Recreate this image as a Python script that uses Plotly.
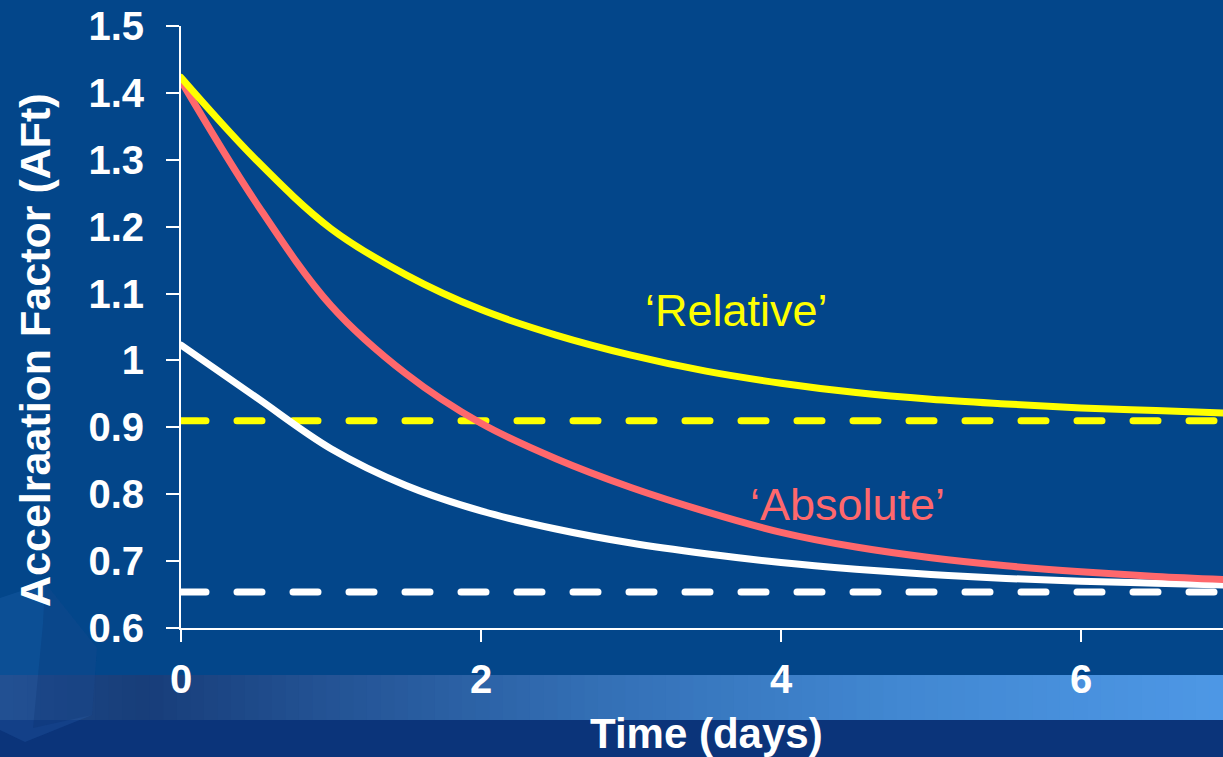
import plotly.graph_objects as go

# Time axis (days) at which the curves are sampled
days = [0, 0.5, 1, 1.5, 2, 2.5, 3, 3.5, 4, 4.5, 5, 5.5, 6, 6.5, 7]

# Acceleration factor curves
relative_af = [1.423, 1.300, 1.197, 1.128, 1.076, 1.038, 1.008, 0.984, 0.966,
               0.952, 0.942, 0.935, 0.929, 0.925, 0.921]
absolute_af = [1.418, 1.236, 1.082, 0.980, 0.906, 0.853, 0.810, 0.774, 0.743,
               0.721, 0.705, 0.693, 0.684, 0.677, 0.672]
baseline_af = [1.023, 0.945, 0.868, 0.813, 0.775, 0.748, 0.727, 0.711, 0.698,
               0.688, 0.680, 0.674, 0.670, 0.667, 0.664]

# Asymptotic levels (dashed)
relative_limit = 0.910
baseline_limit = 0.654

x_ticks = [0, 2, 4, 6]
y_ticks = [0.6, 0.7, 0.8, 0.9, 1.0, 1.1, 1.2, 1.3, 1.4, 1.5]
y_tick_text = ["0.6", "0.7", "0.8", "0.9", "1", "1.1", "1.2", "1.3", "1.4", "1.5"]

BG = "#03468a"
YELLOW = "#ffff00"
RED = "#ff686c"
WHITE = "#ffffff"
FONT = "Liberation Sans, Arial, sans-serif"

W, H = 1223, 757
L, R, T, B = 181, 0, 26, 129
plot_w = W - L - R
plot_h = H - T - B
x_max = plot_w / 150.0


def px(x):
    return (x - L) / plot_w


def py(y):
    return (H - B - y) / plot_h


fig = go.Figure()

x_ends = [0, 7]
dash = "25px,31px"
fig.add_trace(go.Scatter(x=x_ends, y=[relative_limit] * 2, mode="lines",
                         line=dict(color=YELLOW, width=7, dash=dash), hoverinfo="skip"))
fig.add_trace(go.Scatter(x=x_ends, y=[baseline_limit] * 2, mode="lines",
                         line=dict(color=WHITE, width=7, dash=dash), hoverinfo="skip"))
fig.add_trace(go.Scatter(x=days, y=baseline_af, mode="lines",
                         line=dict(color=WHITE, width=7, shape="spline", smoothing=1.0)))
fig.add_trace(go.Scatter(x=days, y=absolute_af, mode="lines",
                         line=dict(color=RED, width=7, shape="spline", smoothing=1.0)))
fig.add_trace(go.Scatter(x=days, y=relative_af, mode="lines",
                         line=dict(color=YELLOW, width=7, shape="spline", smoothing=1.0)))

shapes = []
# lower dark strip
shapes.append(dict(type="rect", xref="paper", yref="paper",
                   x0=px(0), x1=px(W), y0=py(H), y1=py(720),
                   fillcolor="#0b347a", line_width=0, layer="below"))
# horizontal gradient band
stops = [(0, (30, 72, 135)), (150, (24, 62, 122)), (300, (34, 80, 145)),
         (600, (52, 112, 182)), (900, (66, 136, 210)), (1223, (78, 152, 230))]
n = 90
for i in range(n):
    xa = W * i / n
    xb = W * (i + 1) / n + 1
    xm = (xa + xb) / 2
    for j in range(len(stops) - 1):
        if stops[j][0] <= xm <= stops[j + 1][0]:
            f = (xm - stops[j][0]) / (stops[j + 1][0] - stops[j][0])
            c = tuple(int(stops[j][1][k] + (stops[j + 1][1][k] - stops[j][1][k]) * f)
                      for k in range(3))
            break
    shapes.append(dict(type="rect", xref="paper", yref="paper",
                       x0=px(xa), x1=px(xb), y0=py(720), y1=py(675),
                       fillcolor="rgb(%d,%d,%d)" % c, line_width=0, layer="below"))


def poly(points):
    return "M " + " L ".join("%.4f,%.4f" % (px(a), py(b)) for a, b in points) + " Z"


# faint hexagonal block at the lower left
shapes.append(dict(type="path", xref="paper", yref="paper",
                   path=poly([(0, 598), (45, 583), (97, 648), (92, 715), (25, 742), (0, 730)]),
                   fillcolor="rgba(60,125,205,0.17)", line_width=0, layer="below"))
shapes.append(dict(type="path", xref="paper", yref="paper",
                   path=poly([(45, 583), (97, 648), (92, 715), (33, 728), (43, 623)]),
                   fillcolor="rgba(5,40,100,0.2)", line_width=0, layer="below"))

annotations = [
    dict(text="‘Relative’", x=3.7, y=1.075, xref="x", yref="y", showarrow=False,
         font=dict(family=FONT, size=45, color=YELLOW), xanchor="center", yanchor="middle"),
    dict(text="‘Absolute’", x=4.44, y=0.784, xref="x", yref="y", showarrow=False,
         font=dict(family=FONT, size=45, color=RED), xanchor="center", yanchor="middle"),
    dict(text="<b>Accelraation Factor (AFt)</b>", x=px(35), y=py(350), xref="paper",
         yref="paper", showarrow=False, textangle=-90,
         font=dict(family=FONT, size=43, color=WHITE), xanchor="center", yanchor="middle"),
    dict(text="<b>Time (days)</b>", x=px(706), y=py(733), xref="paper", yref="paper",
         showarrow=False, font=dict(family=FONT, size=42, color=WHITE),
         xanchor="center", yanchor="middle"),
]

fig.update_layout(
    width=W, height=H,
    margin=dict(l=L, r=R, t=T, b=B, pad=0),
    paper_bgcolor=BG, plot_bgcolor=BG,
    showlegend=False,
    shapes=shapes,
    annotations=annotations,
    font=dict(family=FONT, color=WHITE),
    xaxis=dict(range=[0, x_max], tickvals=x_ticks, ticktext=[str(v) for v in x_ticks],
               showgrid=False, zeroline=False, showline=True, linecolor=WHITE, linewidth=2,
               ticks="outside", ticklen=12, tickwidth=2, tickcolor=WHITE,
               tickfont=dict(family=FONT, size=40, color=WHITE, weight="bold"),
               ticklabelstandoff=3),
    yaxis=dict(range=[0.6, 1.5], tickvals=y_ticks, ticktext=y_tick_text,
               showgrid=False, zeroline=False, showline=True, linecolor=WHITE, linewidth=2,
               ticks="outside", ticklen=13, tickwidth=2, tickcolor=WHITE,
               tickfont=dict(family=FONT, size=40, color=WHITE, weight="bold"),
               ticklabelstandoff=14),
)

round_caps = """
var gd = document.getElementById('{plot_id}');
function roundCaps() {
  gd.querySelectorAll('.scatterlayer .js-line').forEach(function (p) {
    p.style.strokeLinecap = 'round';
  });
}
roundCaps();
gd.on('plotly_afterplot', roundCaps);
"""

fig.write_html("out.html", post_script=round_caps)
